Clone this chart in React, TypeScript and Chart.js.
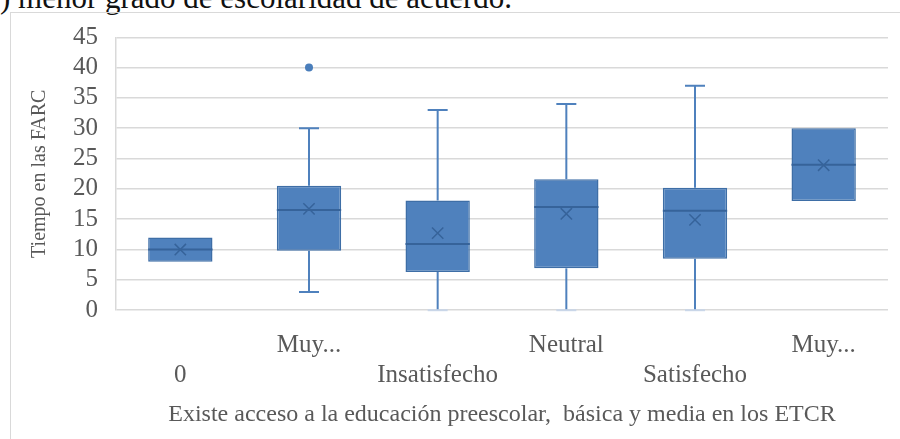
import React, { useEffect, useRef } from "react";
import { Chart, registerables } from "chart.js";

Chart.register(...registerables);

const categories = ["0", "Muy Insatisfecho", "Insatisfecho", "Neutral", "Satisfecho", "Muy Satisfecho"];
const tickLabels = [["", "0"], ["Muy...", ""], ["", "Insatisfecho"], ["Neutral", ""], ["", "Satisfecho"], ["Muy...", ""]];
const q1 = [8, 9.8, 6.3, 6.9, 8.5, 18];
const q3 = [12, 20.5, 18.1, 21.6, 20.2, 30];
const medians = [10, 16.5, 10.9, 17, 16.4, 24];
const means = [10, 16.7, 12.7, 15.9, 14.9, 23.9];
const whiskerMin = [8, 3, 0, 0, 0, 18];
const whiskerMax = [12, 30, 33, 34, 37, 30];
const outliers = [null, 40, null, null, null, null];
const yTicks = [0, 5, 10, 15, 20, 25, 30, 35, 40, 45];

const FONT = "'Liberation Serif', serif";
const TEXT = "#595959";
const FILL = "#4F81BD";
const EDGE = "#3E6EA6";
const DARK = "#36639A";

const boxPlugin = {
  id: "boxParts",
  afterDatasetDraw(chart: any, args: any) {
    if (args.index !== 0) return;
    const ctx = chart.ctx;
    const x = chart.scales.x;
    const y = chart.scales.y;
    const meta = chart.getDatasetMeta(0);
    ctx.save();
    meta.data.forEach((bar: any, i: number) => {
      const cx = x.getPixelForValue(i);
      const half = bar.width / 2;
      const cap = 10;
      ctx.strokeStyle = FILL;
      ctx.lineWidth = 2;
      const pTop = y.getPixelForValue(q3[i]);
      const pBot = y.getPixelForValue(q1[i]);
      const pMax = y.getPixelForValue(whiskerMax[i]);
      const pMin = y.getPixelForValue(whiskerMin[i]);
      if (whiskerMax[i] > q3[i]) {
        ctx.beginPath();
        ctx.moveTo(cx, pTop);
        ctx.lineTo(cx, pMax);
        ctx.moveTo(cx - cap, pMax);
        ctx.lineTo(cx + cap, pMax);
        ctx.stroke();
      }
      if (whiskerMin[i] < q1[i]) {
        ctx.beginPath();
        ctx.moveTo(cx, pBot);
        ctx.lineTo(cx, pMin);
        ctx.stroke();
        ctx.strokeStyle = whiskerMin[i] <= y.min ? "#c9d6e8" : FILL;
        ctx.beginPath();
        ctx.moveTo(cx - cap, pMin);
        ctx.lineTo(cx + cap, pMin);
        ctx.stroke();
      }
      ctx.strokeStyle = DARK;
      ctx.lineWidth = 2;
      const pMed = y.getPixelForValue(medians[i]);
      ctx.beginPath();
      ctx.moveTo(cx - half, pMed);
      ctx.lineTo(cx + half, pMed);
      ctx.stroke();
    });
    ctx.restore();
  },
};

export default function App() {
  const ref = useRef<HTMLCanvasElement | null>(null);
  useEffect(() => {
    if (!ref.current) return;
    const chart = new Chart(ref.current, {
      type: "bar",
      data: {
        labels: tickLabels as any,
        datasets: [
          {
            type: "bar",
            label: "Caja",
            data: q1.map((v, i) => [v, q3[i]]) as any,
            backgroundColor: FILL,
            borderColor: EDGE,
            borderWidth: 1.5,
            borderSkipped: false,
            barPercentage: 1,
            categoryPercentage: 0.5,
            order: 2,
          },
          {
            type: "line",
            label: "Media",
            data: means as any,
            showLine: false,
            pointStyle: "crossRot",
            pointRadius: 8,
            pointBorderWidth: 1.5,
            borderColor: DARK,
            backgroundColor: DARK,
            order: 1,
          },
          {
            type: "line",
            label: "Atípicos",
            data: outliers as any,
            showLine: false,
            pointStyle: "circle",
            pointRadius: 4,
            borderWidth: 0,
            pointBorderWidth: 0,
            backgroundColor: "#4A7EBB",
            borderColor: "#4A7EBB",
            order: 1,
          },
        ],
      },
      options: {
        animation: false,
        responsive: true,
        maintainAspectRatio: false,
        layout: { padding: { left: 10, right: 12, top: 9, bottom: 8 } },
        plugins: { legend: { display: false }, tooltip: { enabled: false } },
        scales: {
          x: {
            grid: { display: false },
            border: { display: false },
            ticks: {
              color: TEXT,
              font: { family: FONT, size: 25 },
              padding: 12,
              maxRotation: 0,
              autoSkip: false,
            },
            title: {
              display: true,
              text: "Existe acceso a la educación preescolar,  básica y media en los ETCR",
              color: TEXT,
              font: { family: FONT, size: 24 },
              padding: { top: -2, bottom: 2 },
            },
          },
          y: {
            min: 0,
            max: 45,
            afterBuildTicks: (s: any) => {
              s.ticks = yTicks.map((v) => ({ value: v }));
            },
            grid: { color: "#d9d9d9", lineWidth: 1.5, drawTicks: false },
            border: { display: true, color: "#d9d9d9", width: 1.5 },
            ticks: {
              color: TEXT,
              font: { family: FONT, size: 25, lineHeight: 0.5 },
              padding: 18,
              autoSkip: false,
            },
            title: {
              display: true,
              text: "Tiempo en las FARC",
              color: TEXT,
              font: { family: FONT, size: 20 },
              padding: { top: 6, bottom: 3 },
            },
          },
        },
      },
      plugins: [boxPlugin],
    });
    return () => chart.destroy();
  }, []);

  return (
    <div style={{ position: "absolute", left: 0, top: 0, width: 900, height: 439, overflow: "hidden", background: "#fff" }}>
      <div
        style={{
          position: "absolute",
          left: 0,
          top: -18,
          fontFamily: FONT,
          fontSize: 31,
          lineHeight: "31px",
          color: "#111",
          whiteSpace: "nowrap",
        }}
      >
        ) menor grado de escolaridad de acuerdo.
      </div>
      <div
        style={{
          position: "absolute",
          left: 10,
          top: 12,
          width: 900,
          height: 440,
          border: "1.5px solid #d9d9d9",
          boxSizing: "border-box",
        }}
      />
      <div style={{ position: "absolute", left: 12, top: 13, width: 888, height: 426 }}>
        <canvas ref={ref} />
      </div>
    </div>
  );
}
